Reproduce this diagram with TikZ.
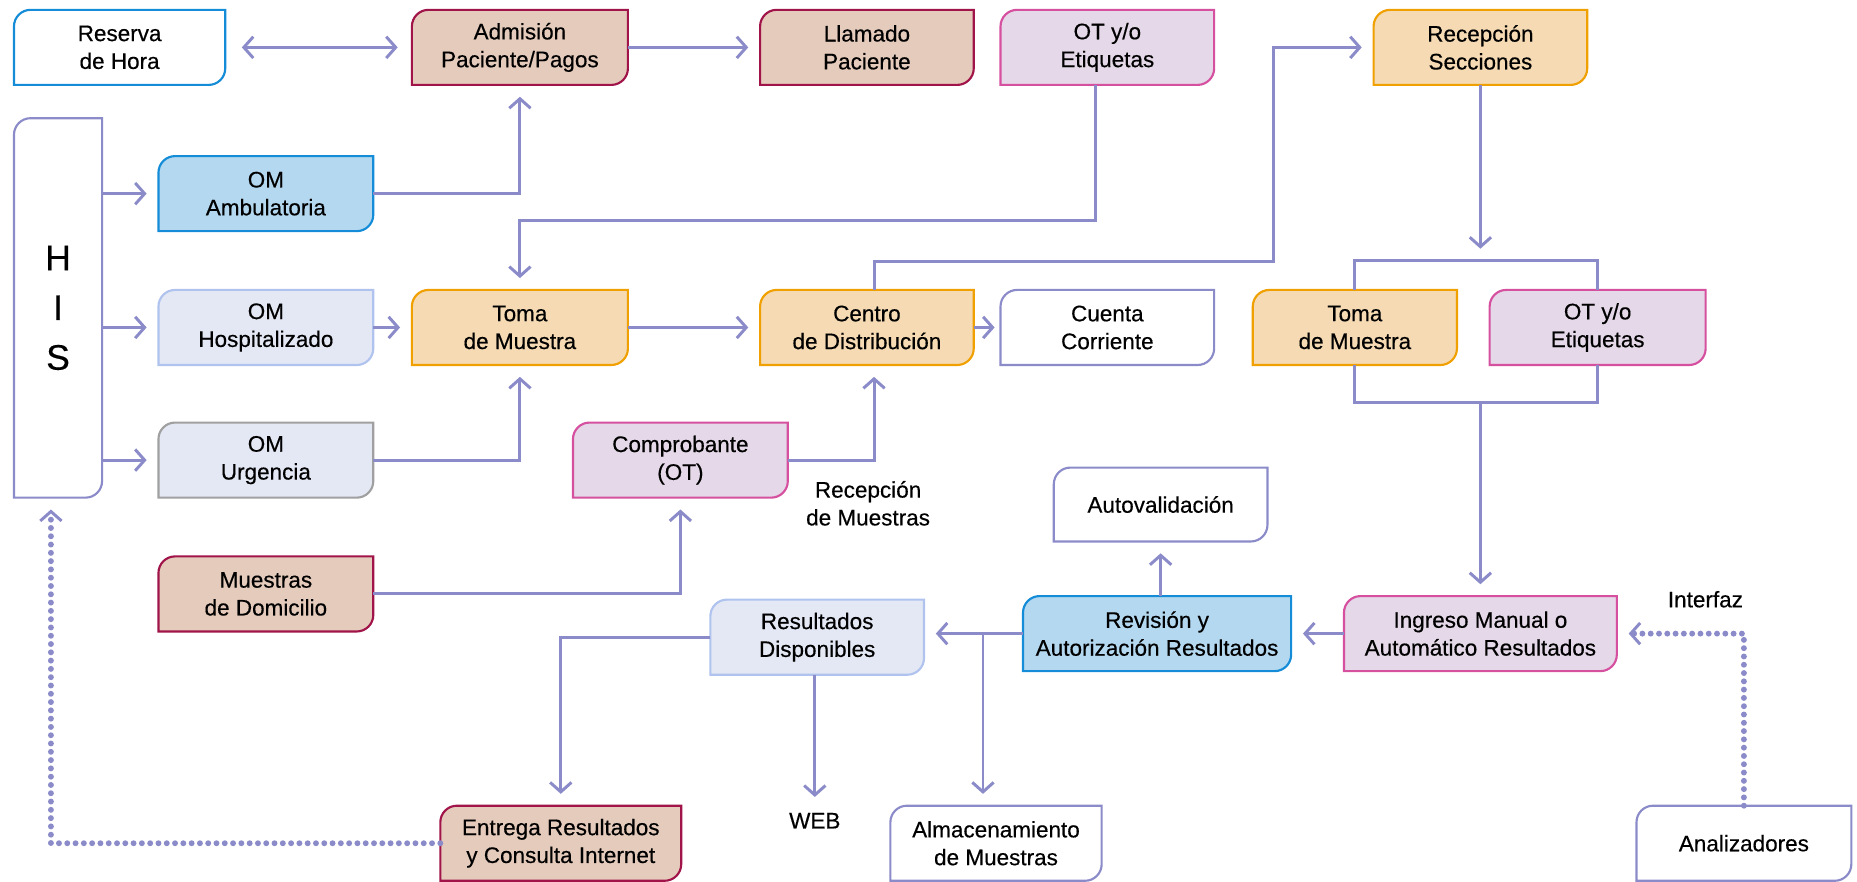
\documentclass[tikz,border=0pt]{standalone}
\usepackage{fontspec}
\setmainfont{Liberation Sans}[FakeBold=0.4]
\usetikzlibrary{arrows.meta,backgrounds,calc}
\definecolor{linkc}{RGB}{139,139,202}
\definecolor{brownf}{RGB}{229,203,187}
\definecolor{brownd}{RGB}{160,20,74}
\definecolor{pinkf}{RGB}{229,216,232}
\definecolor{pinkd}{RGB}{214,80,160}
\definecolor{orangef}{RGB}{245,218,179}
\definecolor{oranged}{RGB}{240,160,0}
\definecolor{bluef}{RGB}{179,216,239}
\definecolor{blued}{RGB}{20,140,215}
\definecolor{palef}{RGB}{227,232,244}
\definecolor{paled}{RGB}{175,195,238}
\definecolor{greyd}{RGB}{160,160,160}
\tikzset{%
	lab/.style      = {font=\fontsize{19}{23.5}\selectfont, align=center},
	box/.style 2 args = {lab, minimum width=180pt, minimum height=63pt, inner sep=0pt,
		append after command={\pgfextra{\let\boxnode\tikzlastnode
			\begin{pgfonlayer}{background}
			\filldraw[fill=#1, draw=#2, line width=1.8pt]
				(\boxnode.south west) -- ([yshift=-14pt]\boxnode.north west)
				arc[start angle=180, end angle=90, radius=14pt] -- (\boxnode.north east)
				-- ([yshift=14pt]\boxnode.south east)
				arc[start angle=0, end angle=-90, radius=14pt] -- cycle;
			\end{pgfonlayer}}}},
	brownbox/.style  = {box={brownf}{brownd}},
	pinkbox/.style   = {box={pinkf}{pinkd}},
	orangebox/.style = {box={orangef}{oranged}},
	bluebox/.style   = {box={bluef}{blued}},
	palebox/.style   = {box={palef}{paled}},
	greybox/.style   = {box={palef}{greyd}},
	plainbox/.style  = {box={white}{linkc}},
	openbox/.style   = {box={white}{blued}},
	tip/.style       = {arrows={-Straight Barb[length=8pt, width=18pt, line width=2.5pt]}},
	flow/.style      = {draw=linkc, line width=2.5pt, tip, shorten >=10pt},
	link/.style      = {draw=linkc, line width=2.5pt},
	dots/.style      = {flow, line width=5pt, line cap=round, dash pattern=on 0pt off 7pt},
}

\begin{document}
\begin{tikzpicture}[x=1pt, y=-1pt]
	\useasboundingbox (0,0) rectangle (1568,744);
	
	% top row
	\node[openbox, minimum width=178pt] (res) at (101,40) {Reserva\\de Hora};
	\node[brownbox, minimum width=182pt] (adm) at (439,40) {Admisión\\Paciente/Pagos};
	\node[brownbox] (lla) at (732,40) {Llamado\\Paciente};
	\node[pinkbox] (ot1) at (935,40) {OT y/o\\Etiquetas};
	\node[orangebox] (rec) at (1250,40) {Recepción\\Secciones};
	
	% HIS and orders
	\node[plainbox, minimum width=74pt, minimum height=320pt, font=\fontsize{30}{42}\selectfont] (his) at (49,260) {H\\I\\S};
	\node[bluebox, minimum width=181pt] (oma) at (224.5,163.5) {OM\\Ambulatoria};
	\node[palebox, minimum width=181pt] (omh) at (224.5,276.5) {OM\\Hospitalizado};
	\node[greybox, minimum width=181pt] (omu) at (224.5,388.5) {OM\\Urgencia};
	\node[brownbox, minimum width=181pt] (mue) at (224.5,501.5) {Muestras\\de Domicilio};
	
	% middle row
	\node[orangebox, minimum width=182pt] (tom) at (439,276.5) {Toma\\de Muestra};
	\node[orangebox] (cen) at (732,276.5) {Centro\\de Distribución};
	\node[plainbox] (cue) at (935,276.5) {Cuenta\\Corriente};
	\node[orangebox, minimum width=172pt] (tom2) at (1144,276.5) {Toma\\de Muestra};
	\node[pinkbox, minimum width=182pt] (ot2) at (1349,276.5) {OT y/o\\Etiquetas};
	\node[pinkbox, minimum width=181pt] (com) at (574.5,388.5) {Comprobante\\(OT)};
	\node[lab] (recm) at (733,425) {Recepción\\de Muestras};
	\node[plainbox, minimum height=62pt] (aut) at (980,426) {Autovalidación};
	
	% results
	\node[palebox] (resd) at (690,538) {Resultados\\Disponibles};
	\node[bluebox, minimum width=226pt] (rev) at (977,535) {Revisión y\\Autorización Resultados};
	\node[pinkbox, minimum width=230pt] (ing) at (1250,535) {Ingreso Manual o\\Automático Resultados};
	\node[lab] (intf) at (1440,506) {Interfaz};
	\node[brownbox, minimum width=203pt] (ent) at (473.5,712) {Entrega Resultados\\y Consulta Internet};
	\node[lab] (web) at (688,693) {WEB};
	\node[plainbox, minimum width=178pt] (alm) at (841,712) {Almacenamiento\\de Muestras};
	\node[plainbox, minimum width=181pt] (ana) at (1472.5,712) {Analizadores};
	
	\coordinate (otbend) at (439,186);
	\coordinate (cenup) at (1075,221);
	\coordinate (brtop) at (1250,220);
	\coordinate (brbot) at (1250,340);
	\coordinate (almsplit) at (830,535);
	
	% connectors
	\draw[flow, arrows={Straight Barb[length=8pt, width=18pt, line width=2.5pt]-Straight Barb[length=8pt, width=18pt, line width=2.5pt]}, shorten <=14pt, shorten >=12pt] (res) -- (adm);
	\draw[flow] (adm) -- (lla);
	\foreach \om in {oma,omh,omu} \draw[flow] (his.east |- \om.west) -- (\om.west);
	\draw[flow] (oma.east) -| (adm.south);
	\draw[flow] ([xshift=-10pt]ot1.south) |- (otbend) -- (tom.north);
	\draw[flow] (omh) -- (tom);
	\draw[flow] (omu.east) -| (tom.south);
	\draw[flow] (tom) -- (cen);
	\draw[flow, shorten >=5pt] (cen) -- (cue);
	\draw[flow] ([xshift=6pt]cen.north) |- (cenup) |- (rec.west);
	\draw[flow] (com.east) -| ([xshift=6pt]cen.south);
	\draw[flow] (mue.east) -| (com.south);
	\draw[flow] (rec) -- (brtop);
	\draw[link] (tom2.north) |- (brtop) -| (ot2.north);
	\draw[link] (tom2.south) |- (brbot) -| (ot2.south);
	\draw[flow] (brbot) -- (ing.north);
	\draw[flow] (ing) -- (rev);
	\draw[flow] ([xshift=3pt]rev.north) -- (aut);
	\draw[flow] (rev.west) -- (rev.west -| resd.east);
	\draw[flow] (almsplit) -- (almsplit |- alm.north);
	\draw[flow] (resd.south -| web) -- (web.north);
	\draw[flow] (resd.west) -| (ent.north);
	\draw[dots] (ent.west) -| ([xshift=-6pt]his.south);
	\draw[dots] (ana.north) |- (ing.east);
\end{tikzpicture}
\end{document}
